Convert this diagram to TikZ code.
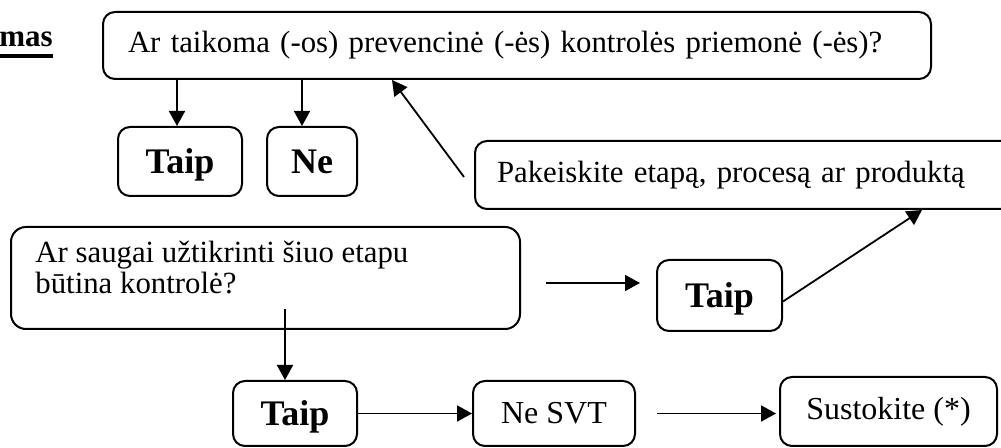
\documentclass[tikz,border=0pt]{standalone}
\usepackage{fontspec}
\setmainfont{Liberation Serif}
\usetikzlibrary{arrows.meta}

\begin{document}
\begin{tikzpicture}[x=0.5pt,y=-0.5pt,
  box/.style={draw,line width=1pt,rounded corners=6pt,inner sep=0pt,font=\fontsize{16}{15.5}\selectfont},
  qbox/.style={box,font=\fontsize{15.4}{15.5}\selectfont},
  ans/.style={box,text depth=0pt,font=\fontsize{18}{20}\selectfont\bfseries},
  arr/.style={line width=0.9pt,-{Triangle[length=7.5pt,width=8pt]}}]
\useasboundingbox (0,0) rectangle (1001,448);
\node[anchor=base west,inner sep=0pt,font=\fontsize{15.5}{18}\selectfont\bfseries] (mas) at (-1,47) {mas};
\draw[line width=2pt] ([yshift=-4.5pt]mas.base west) -- ([yshift=-4.5pt]mas.base east);
\node[qbox,minimum width=414pt,minimum height=33.5pt,text width=389pt,align=left] (q1) at (517,45.5) {\mbox{Ar taikoma (-os) prevencinė (-ės) kontrolės priemonė (-ės)?}};
\node[ans,minimum width=62pt,minimum height=34.5pt] (taip1) at (180,161.5) {Taip};
\node[ans,minimum width=45pt,minimum height=34.5pt] (ne) at (312,161.5) {Ne};
\node[qbox,minimum width=270pt,minimum height=34pt,text width=248pt,align=left] (chg) at (745,175) {Pakeiskite etapą, procesą ar produktą};
\node[qbox,rounded corners=7.5pt,minimum width=254.5pt,minimum height=51pt] (q2) at (265.5,278) {};
\node[anchor=north west,inner sep=0pt,align=left,font=\fontsize{15.4}{15.5}\selectfont] (q2t) at ([xshift=12.5pt,yshift=-7.5pt]q2.north west) {Ar saugai užtikrinti šiuo etapu\\ būtina kontrolė?};
\node[ans,minimum width=62.5pt,minimum height=35.5pt] (taip2) at (719.5,295.5) {Taip};
\node[ans,minimum width=62pt,minimum height=32.5pt] (taip3) at (295,413.5) {Taip};
\node[box,minimum width=81pt,minimum height=32.5pt] (nesvt) at (554,413.5) {Ne SVT};
\node[box,minimum width=108.5pt,minimum height=34.5pt] (stop) at (888.5,411.5) {Sustokite (*)};
\coordinate (q1in) at ([xshift=145pt]q1.south west);
\coordinate (q2out) at ([xshift=12.5pt,yshift=-2.5pt]q2.east);
\draw[arr] ([xshift=-1.5pt]taip1.north |- q1.south) -- ([xshift=-1.5pt]taip1.north);
\draw[arr] ([xshift=-5pt]ne.north |- q1.south) -- ([xshift=-5pt]ne.north);
\draw[arr] ([xshift=-5pt,yshift=-1pt]chg.west) -- (q1in);
\draw[arr] (q2out) -- ([xshift=-8pt]taip2.west |- q2out);
\draw[arr] ([yshift=-3pt]taip2.east) -- ([xshift=224pt]chg.south west);
\draw[arr] ([xshift=-5pt,yshift=10.5pt]taip3.north |- q2.south) -- ([xshift=-5pt]taip3.north);
\draw[arr] (taip3.east) -- (nesvt.west);
\draw[arr] ([xshift=10.5pt]nesvt.east) -- ([xshift=-1.5pt]stop.west |- nesvt.east);
\end{tikzpicture}
\end{document}
